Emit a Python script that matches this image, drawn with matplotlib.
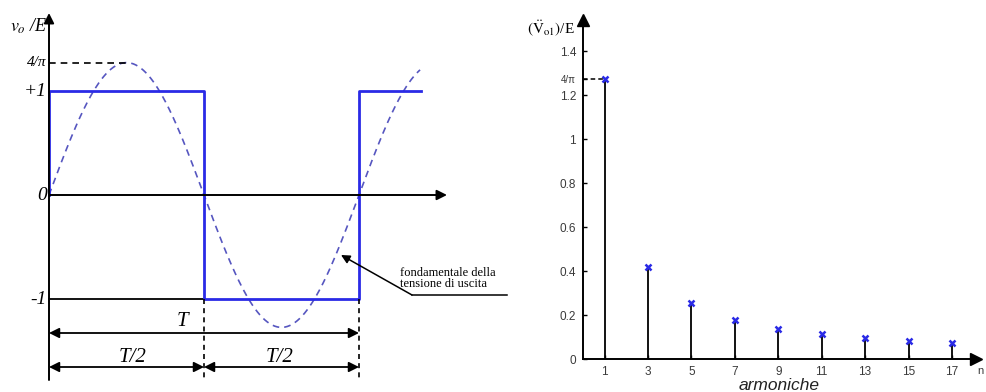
import numpy as np
import matplotlib
matplotlib.use("Agg")
import matplotlib.pyplot as plt

# ---- data ----
# square wave output, one period T = 1 (plus a bit of the next one)
t_square = [0, 0, 0.5, 0.5, 1.0, 1.0, 1.2]
v_square = [0, 1, 1, -1, -1, 1, 1]
t_end_sine = 1.197

# harmonic amplitudes (V_on)/E
harmonics = [1, 3, 5, 7, 9, 11, 13, 15, 17]
amplitudes = [1.273, 0.42, 0.253, 0.177, 0.136, 0.113, 0.095, 0.082, 0.073]
yticks_r = [0, 0.2, 0.4, 0.6, 0.8, 1.0, 1.2, 1.4]
yticklabels_r = ['0', '0.2', '0.4', '0.6', '0.8', '1', '1.2', '1.4']

W, H = 987, 392
fig = plt.figure(figsize=(W/100, H/100), dpi=100)

blue = '#2a2ae6'
blue_d = '#5656c0'
serif = ['Liberation Serif', 'DejaVu Serif']
sans = ['Liberation Sans', 'DejaVu Sans']

# ---------------- left panel ----------------
# pixel mapping: x = 49 + t*310, y = 195 - v*104
axL = fig.add_axes([0, 0, 540/W, 1])
axL.set_xlim(-49/310, (540-49)/310)
axL.set_ylim((195-392)/104, 195/104)
axL.axis('off')

arr = dict(arrowstyle='-|>', color='black', lw=1.4, mutation_scale=15, shrinkA=0, shrinkB=0)
# axes
axL.annotate('', xy=(0, (195-13)/104), xytext=(0, (195-380)/104), arrowprops=arr)
axL.annotate('', xy=((447-49)/310, 0), xytext=(0, 0), arrowprops=arr)

# fundamental (dashed)
A1 = amplitudes[0]
ts = np.linspace(0, t_end_sine, 300)
axL.plot(ts, A1*np.sin(2*np.pi*ts), ls=(0, (4, 3)), color=blue_d, lw=1.2)
axL.plot([0, 0.25], [A1, A1], ls=(0, (4, 3)), color='black', lw=1.2)

# -1 reference line
axL.plot([0, 0.5], [-1, -1], color='black', lw=1.3)
# square wave
axL.plot(t_square, v_square, color=blue, lw=2.0)

# dashed verticals
for tv in [0.5, 1.0]:
    axL.plot([tv, tv], [-1, (195-380)/104], ls=(0, (3, 2.5)), color='black', lw=1.2)

# dimension arrows
darr = dict(arrowstyle='<|-|>', color='black', lw=1.3, mutation_scale=15, shrinkA=0, shrinkB=0)
yT = (195-333)/104
yT2 = (195-367)/104
axL.annotate('', xy=(1.0, yT), xytext=(0, yT), arrowprops=darr)
axL.annotate('', xy=(0.5, yT2), xytext=(0, yT2), arrowprops=darr)
axL.annotate('', xy=(1.0, yT2), xytext=(0.5, yT2), arrowprops=darr)
axL.text(0.429, (195-322)/104, 'T', ha='center', va='center', fontsize=15,
         family=serif, style='italic')
axL.text(0.271, (195-357)/104, 'T/2', ha='center', va='center', fontsize=15,
         family=serif, style='italic')
axL.text(0.745, (195-357)/104, 'T/2', ha='center', va='center', fontsize=15,
         family=serif, style='italic')

# y labels
axL.text(-0.008, A1, '4/π', ha='right', va='center', fontsize=11, family=serif, style='italic')
axL.text(-0.008, 1, '+1', ha='right', va='center', fontsize=14, family=serif, style='italic')
axL.text(-0.008, 0, '0', ha='right', va='center', fontsize=14, family=serif, style='italic')
axL.text(-0.008, -1, '-1', ha='right', va='center', fontsize=14, family=serif, style='italic')
axL.text(-0.005, (195-26)/104, r'$v_o$ /E', ha='right', va='center', fontsize=13,
         family=serif, style='italic', math_fontfamily='stix')

# annotation of the fundamental
axL.annotate('', xy=((341-49)/310, (195-255)/104), xytext=((412-49)/310, (195-295)/104),
             arrowprops=dict(arrowstyle='-|>', color='black', lw=1.1, mutation_scale=13,
                             shrinkA=0, shrinkB=0))
axL.plot([(412-49)/310, (507-49)/310], [(195-295)/104]*2, color='black', lw=1.1)
axL.text((400-49)/310, (195-273)/104, 'fondamentale della', ha='left', va='center',
         fontsize=9, family=serif)
axL.text((400-49)/310, (195-284)/104, 'tensione di uscita', ha='left', va='center',
         fontsize=9, family=serif)

# ---------------- right panel ----------------
# pixel mapping: x = 583 + n*21.7, y = 359 - v*220
x0, y0 = 583, 359
xmax = (976-583)/21.7
ymax = (359-20)/220
axR = fig.add_axes([x0/W, (H-y0)/H, (976-583)/W, (359-20)/H])
axR.set_xlim(0, xmax)
axR.set_ylim(0, ymax)
for s in ['top', 'right']:
    axR.spines[s].set_visible(False)
for s in ['left', 'bottom']:
    axR.spines[s].set_linewidth(1.4)
axR.plot([0], [1], marker='^', ms=8, color='black', transform=axR.transAxes, clip_on=False)
axR.plot([1], [0], marker='>', ms=8, color='black', transform=axR.transAxes, clip_on=False)

axR.vlines(harmonics, 0, amplitudes, color='black', lw=1.3)
axR.plot(harmonics, amplitudes, ls='none', marker='x', ms=4, mew=1.8, color=blue)
axR.plot([0, harmonics[0]], [amplitudes[0]]*2, ls=(0, (3, 2)), color='black', lw=1.1)

axR.set_yticks(yticks_r + [amplitudes[0]])
axR.set_yticklabels(yticklabels_r + ['4/π'])
axR.set_xticks(harmonics)
axR.set_xticklabels([str(h) for h in harmonics])
axR.tick_params(direction='in', length=3, width=1, labelsize=8.5, labelcolor='#3a3a3a',
                pad=5)
for lab in axR.get_yticklabels() + axR.get_xticklabels():
    lab.set_family(sans)
axR.get_yticklabels()[-1].set_fontsize(7)

axR.set_xlabel('armoniche', fontsize=12.5, family=sans, style='italic', labelpad=0,
               color='#222222')
fig.text(551/W, 1-28/H, r'$(\ddot{\mathrm{V}}_{\mathrm{o1}})$/E', ha='center', va='center',
         fontsize=11, family=serif, math_fontfamily='stix')
fig.text(977/W, 1-371/H, 'n', ha='left', va='center', fontsize=8, family=sans, color='#3a3a3a')

fig.savefig('out.png', dpi=100)
